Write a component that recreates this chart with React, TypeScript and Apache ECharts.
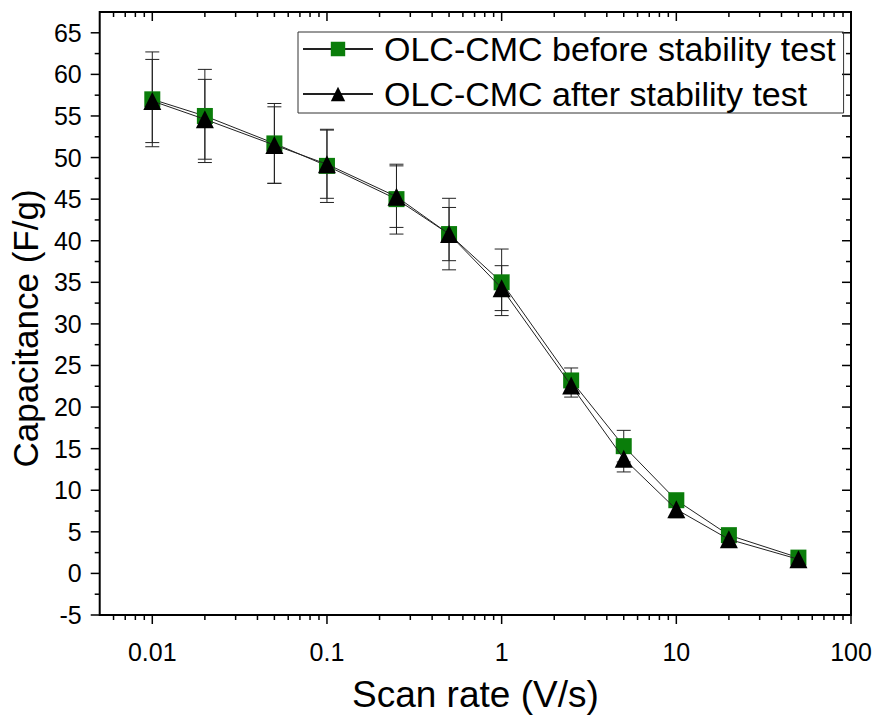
import React, { useEffect, useRef } from "react";
import * as echarts from "echarts";

const scanRates = [0.01, 0.02, 0.05, 0.1, 0.25, 0.5, 1, 2.5, 5, 10, 20, 50];
const beforeCap = [57.0, 55.0, 51.7, 49.0, 45.0, 40.8, 35.0, 23.2, 15.3, 8.8, 4.6, 1.9];
const beforeErr = [5.7, 5.6, 4.8, 4.4, 4.2, 4.3, 4.0, 1.5, 1.9, 0.8, 0.4, 0.2];
const afterCap = [56.8, 54.6, 51.5, 49.2, 45.3, 40.8, 34.3, 22.6, 13.8, 7.7, 4.1, 1.7];
const afterErr = [5.0, 4.8, 4.6, 4.1, 3.7, 3.2, 2.7, 1.4, 1.6, 1.0, 0.4, 0.2];

const seriesNames = ["OLC-CMC before stability test", "OLC-CMC after stability test"];
const xTitle = "Scan rate (V/s)";
const yTitle = "Capacitance (F/g)";

const xMajorTicks = [0.01, 0.1, 1, 10, 100];
const xTickLabels = ["0.01", "0.1", "1", "10", "100"];
const xMinorTicks = [
  0.006, 0.007, 0.008, 0.009,
  0.02, 0.03, 0.04, 0.05, 0.06, 0.07, 0.08, 0.09,
  0.2, 0.3, 0.4, 0.5, 0.6, 0.7, 0.8, 0.9,
  2, 3, 4, 5, 6, 7, 8, 9,
  20, 30, 40, 50, 60, 70, 80, 90,
];
const yMajorTicks = [-5, 0, 5, 10, 15, 20, 25, 30, 35, 40, 45, 50, 55, 60, 65];
const yMinorTicks = [-2.5, 2.5, 7.5, 12.5, 17.5, 22.5, 27.5, 32.5, 37.5, 42.5, 47.5, 52.5, 57.5, 62.5];

const X_MIN = 0.005;
const X_MAX = 100;
const Y_MIN = -5;
const Y_MAX = 67.5;

const FONT = "'Liberation Sans', Arial, sans-serif";
const GREEN = "#0a7d0a";
const LINE = "#222222";

function errorBarSeries(values: number[], errs: number[], name: string) {
  return {
    type: "custom",
    name: name + " err",
    z: 2,
    silent: true,
    clip: false,
    encode: { x: 0, y: [1, 2] },
    data: scanRates.map((x, i) => [x, values[i] - errs[i], values[i] + errs[i]]),
    renderItem: (params: any, api: any) => {
      const x = api.value(0);
      const lo = api.coord([x, api.value(1)]);
      const hi = api.coord([x, api.value(2)]);
      const hw = 7;
      const style = { stroke: LINE, lineWidth: 1 };
      return {
        type: "group",
        children: [
          { type: "line", shape: { x1: lo[0], y1: lo[1], x2: hi[0], y2: hi[1] }, style },
          { type: "line", shape: { x1: lo[0] - hw, y1: lo[1], x2: lo[0] + hw, y2: lo[1] }, style },
          { type: "line", shape: { x1: hi[0] - hw, y1: hi[1], x2: hi[0] + hw, y2: hi[1] }, style },
        ],
      };
    },
  };
}

export default function App() {
  const ref = useRef<HTMLDivElement>(null);
  useEffect(() => {
    if (!ref.current) return;
    const chart = echarts.init(ref.current, null, { renderer: "svg" });
    const tickStyle = { stroke: "#000", lineWidth: 1.5 };
    const option: any = {
      animation: false,
      backgroundColor: "#fff",
      textStyle: { fontFamily: FONT },
      grid: {
        left: 97,
        right: 26,
        top: 12,
        bottom: 98,
        show: true,
        borderColor: "#000",
        borderWidth: 2,
        backgroundColor: "transparent",
      },
      legend: {
        orient: "vertical",
        left: 298,
        top: 32,
        itemWidth: 70,
        itemHeight: 18,
        itemGap: 11,
        borderColor: "#333",
        borderWidth: 1,
        padding: [0, 8, 2, 4],
        textStyle: { fontSize: 34, color: "#000", fontFamily: FONT, padding: [0, 0, 0, 6] },
        data: seriesNames,
      },
      xAxis: {
        type: "log",
        logBase: 10,
        min: X_MIN,
        max: X_MAX,
        name: xTitle,
        nameLocation: "middle",
        nameGap: 61,
        nameTextStyle: { fontSize: 37, color: "#000", fontFamily: FONT },
        axisLine: { show: false },
        axisTick: { show: false },
        splitLine: { show: false },
        minorTick: { show: false },
        axisLabel: {
          show: true,
          margin: 24,
          fontSize: 25,
          color: "#000",
          fontFamily: FONT,
          showMinLabel: true,
          showMaxLabel: true,
          formatter: (v: number) => {
            for (let i = 0; i < xMajorTicks.length; i++) {
              if (Math.abs(v - xMajorTicks[i]) / xMajorTicks[i] < 1e-6) return xTickLabels[i];
            }
            return "";
          },
        },
      },
      yAxis: {
        type: "value",
        min: Y_MIN,
        max: Y_MAX,
        interval: 5,
        name: yTitle,
        nameLocation: "middle",
        nameGap: 52,
        nameTextStyle: { fontSize: 35, color: "#000", fontFamily: FONT, padding: [0, 30, 0, 0] },
        axisLine: { show: false },
        axisTick: { show: false },
        splitLine: { show: false },
        axisLabel: {
          margin: 18,
          fontSize: 25,
          color: "#000",
          fontFamily: FONT,
          formatter: (v: number) => (yMajorTicks.indexOf(v) >= 0 ? String(v) : ""),
        },
      },
      series: [
        {
          type: "custom",
          name: "x ticks",
          silent: true,
          clip: false,
          z: 1,
          encode: { x: 0, y: 1 },
          data: [
            ...xMajorTicks.map((x) => [x, 1]),
            ...xMinorTicks.map((x) => [x, 0]),
          ],
          renderItem: (params: any, api: any) => {
            const cs = params.coordSys;
            const px = api.coord([api.value(0), 0])[0];
            const len = api.value(1) === 1 ? 9 : 5;
            const bottom = cs.y + cs.height;
            const top = cs.y;
            return {
              type: "group",
              children: [
                { type: "line", shape: { x1: px, y1: bottom, x2: px, y2: bottom + len }, style: tickStyle },
                { type: "line", shape: { x1: px, y1: top, x2: px, y2: top + len }, style: tickStyle },
              ],
            };
          },
        },
        {
          type: "custom",
          name: "y ticks",
          silent: true,
          clip: false,
          z: 1,
          encode: { x: 0, y: 1 },
          data: [
            ...yMajorTicks.map((y) => [1, y, 1]),
            ...yMinorTicks.map((y) => [1, y, 0]),
          ],
          renderItem: (params: any, api: any) => {
            const cs = params.coordSys;
            const py = api.coord([1, api.value(1)])[1];
            const len = api.value(2) === 1 ? 9 : 5;
            const left = cs.x;
            const right = cs.x + cs.width;
            return {
              type: "group",
              children: [
                { type: "line", shape: { x1: left, y1: py, x2: left - len, y2: py }, style: tickStyle },
                { type: "line", shape: { x1: right, y1: py, x2: right - len, y2: py }, style: tickStyle },
              ],
            };
          },
        },
        errorBarSeries(beforeCap, beforeErr, seriesNames[0]),
        errorBarSeries(afterCap, afterErr, seriesNames[1]),
        {
          type: "line",
          name: seriesNames[0],
          z: 3,
          data: scanRates.map((x, i) => [x, beforeCap[i]]),
          symbol: "rect",
          symbolSize: 16,
          itemStyle: { color: GREEN },
          lineStyle: { color: LINE, width: 1 },
        },
        {
          type: "line",
          name: seriesNames[1],
          z: 4,
          data: scanRates.map((x, i) => [x, afterCap[i]]),
          symbol: "triangle",
          symbolSize: 18,
          itemStyle: { color: "#000" },
          lineStyle: { color: LINE, width: 1 },
        },
      ],
    };
    chart.setOption(option);
    return () => chart.dispose();
  }, []);
  return (
    <div
      ref={ref}
      style={{ position: "fixed", left: 0, top: 0, width: 877, height: 718, background: "#fff" }}
    />
  );
}
